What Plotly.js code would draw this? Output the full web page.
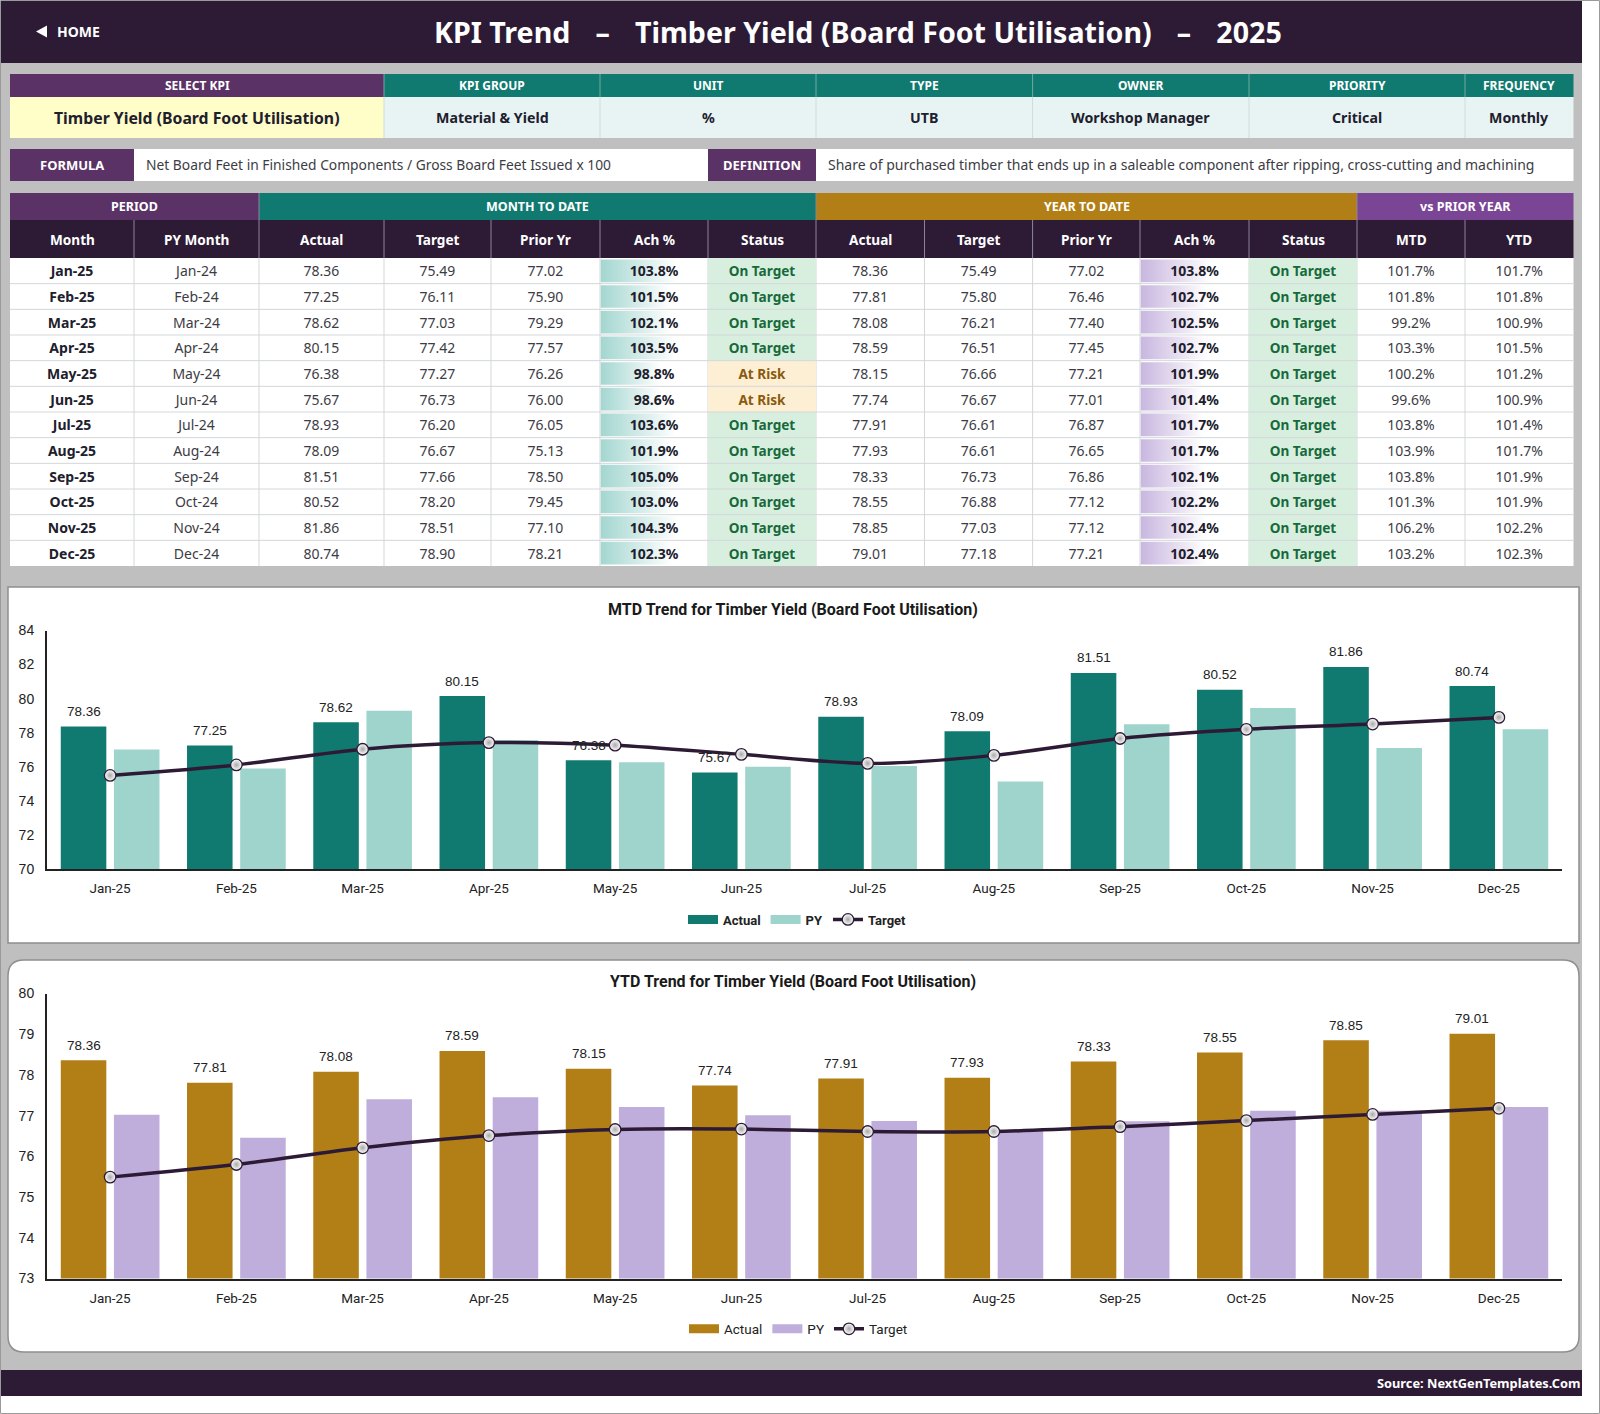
<!DOCTYPE html>
<html><head><meta charset="utf-8">
<script src="https://cdn.plot.ly/plotly-3.0.1.min.js"></script>
<style>html,body{margin:0;padding:0;background:#fff}#c{width:1600px;height:1414px}</style>
</head><body><div id="c"></div>
<script>
const months=['Jan-25','Feb-25','Mar-25','Apr-25','May-25','Jun-25','Jul-25','Aug-25','Sep-25','Oct-25','Nov-25','Dec-25'];
const pyMonths=['Jan-24','Feb-24','Mar-24','Apr-24','May-24','Jun-24','Jul-24','Aug-24','Sep-24','Oct-24','Nov-24','Dec-24'];
const mtdActual=[78.36,77.25,78.62,80.15,76.38,75.67,78.93,78.09,81.51,80.52,81.86,80.74];
const mtdTarget=[75.49,76.11,77.03,77.42,77.27,76.73,76.20,76.67,77.66,78.20,78.51,78.90];
const mtdPrior=[77.02,75.90,79.29,77.57,76.26,76.00,76.05,75.13,78.50,79.45,77.10,78.21];
const mtdAch=[103.8,101.5,102.1,103.5,98.8,98.6,103.6,101.9,105.0,103.0,104.3,102.3];
const mtdStatus=['On Target','On Target','On Target','On Target','At Risk','At Risk','On Target','On Target','On Target','On Target','On Target','On Target'];
const ytdActual=[78.36,77.81,78.08,78.59,78.15,77.74,77.91,77.93,78.33,78.55,78.85,79.01];
const ytdTarget=[75.49,75.80,76.21,76.51,76.66,76.67,76.61,76.61,76.73,76.88,77.03,77.18];
const ytdPrior=[77.02,76.46,77.40,77.45,77.21,77.01,76.87,76.65,76.86,77.12,77.12,77.21];
const ytdAch=[103.8,102.7,102.5,102.7,101.9,101.4,101.7,101.7,102.1,102.2,102.4,102.4];
const ytdStatus=['On Target','On Target','On Target','On Target','On Target','On Target','On Target','On Target','On Target','On Target','On Target','On Target'];
const vsMtd=[101.7,101.8,99.2,103.3,100.2,99.6,103.8,103.9,103.8,101.3,106.2,103.2];
const vsYtd=[101.7,101.8,100.9,101.5,101.2,100.9,101.4,101.7,101.9,101.9,102.2,102.3];
const infoHead=['SELECT KPI','KPI GROUP','UNIT','TYPE','OWNER','PRIORITY','FREQUENCY'];
const infoVals=['Timber Yield (Board Foot Utilisation)','Material & Yield','%','UTB','Workshop Manager','Critical','Monthly'];
const columnHead=['Month','PY Month','Actual','Target','Prior Yr','Ach %','Status','Actual','Target','Prior Yr','Ach %','Status','MTD','YTD'];
const groupHead=['PERIOD','MONTH TO DATE','YEAR TO DATE','vs PRIOR YEAR'];

const W=1600,H=1414,FT='"Noto Sans",sans-serif',FC='Roboto,sans-serif',FA='"Liberation Sans",Arial,sans-serif';
const DARK='#2d1b36',PUR='#5b3266',TEAL='#107a70',GOLD='#b27f17',PUR2='#7b4596',GREY='#bfbfbf';
const CELL='#3c3c44',INK='#20202c',LINE='#d3d7da',clear='rgba(0,0,0,0)';
const X=p=>p/W,Y=p=>1-p/H;
const f2=a=>a.map(v=>v.toFixed(2)),pc=a=>a.map(v=>v.toFixed(1)+'%');
const rowIdx=months.map((m,i)=>i);

const colX=[10,134,259,384,491,600,708,816,924.5,1032.6,1140,1249,1357,1465,1573.5];
const infoX=[10,384,600,816,1032.6,1249,1465,1573.5];
const groupX=[10,259,816,1357,1573.5];

const traces=[];
function chart(ax,act,tgt,pri,cAct,cPy,leg){
  const xa='x'+ax,ya='y'+ax;
  traces.push({type:'bar',name:'Actual',x:months,y:act,xaxis:xa,yaxis:ya,marker:{color:cAct},showlegend:false,hoverinfo:'x+y'});
  traces.push({type:'bar',name:'PY',x:months,y:pri,xaxis:xa,yaxis:ya,marker:{color:cPy},showlegend:false,hoverinfo:'x+y'});
  traces.push({type:'scatter',mode:'lines',name:'Actual',x:[months[0]],y:[null],xaxis:xa,yaxis:ya,line:{color:cAct,width:9},legend:leg,hoverinfo:'skip'});
  traces.push({type:'scatter',mode:'lines',name:'PY',x:[months[0]],y:[null],xaxis:xa,yaxis:ya,line:{color:cPy,width:9},legend:leg,hoverinfo:'skip'});
  traces.push({type:'scatter',mode:'lines+markers',name:'Target',x:months,y:tgt,xaxis:xa,yaxis:ya,legend:leg,
    line:{color:DARK,width:3.5,shape:'spline',smoothing:0.8},
    marker:{size:11.5,color:'#ffffff',gradient:{type:'radial',color:'#a8a8a8'},line:{color:DARK,width:1.3}},hoverinfo:'x+y'});
}
chart('',mtdActual,mtdTarget,mtdPrior,TEAL,'#9fd4cd','legend');
chart('2',ytdActual,ytdTarget,ytdPrior,GOLD,'#bfaddb','legend2');

function dataBars(ax,vals,lo,col){
  vals.forEach((v,i)=>traces.push({type:'scatter',mode:'none',x:[lo,v,v,lo,lo],y:[i-.44,i-.44,i+.44,i+.44,i-.44],xaxis:'x'+ax,yaxis:'y'+ax,
    fill:'toself',fillgradient:{type:'horizontal',colorscale:[[0,col],[1,'#ffffff']]},showlegend:false,hoverinfo:'skip'}));
}
dataBars('3',mtdAch,79,'#a3d6d0');
dataBars('4',ytdAch,86,'#c8b6df');

const statusInk=s=>s.map(v=>v==='On Target'?'#17693a':'#8a5a10');
const statusFill=v=>v==='On Target'?'#d8efe0':'#fdefd3';
const bodyCols=[
 [months,true,INK],[pyMonths,false,CELL],[f2(mtdActual),false,CELL],[f2(mtdTarget),false,CELL],[f2(mtdPrior),false,CELL],
 [pc(mtdAch),true,INK],[mtdStatus,true,statusInk(mtdStatus)],[f2(ytdActual),false,CELL],[f2(ytdTarget),false,CELL],[f2(ytdPrior),false,CELL],
 [pc(ytdAch),true,INK],[ytdStatus,true,statusInk(ytdStatus)],[pc(vsMtd),false,CELL],[pc(vsYtd),false,CELL]];
bodyCols.forEach((c,j)=>{
  const status=j===6||j===11;
  traces.push({type:'scatter',mode:'text',x:rowIdx.map(()=> (colX[j]+colX[j+1])/2),y:rowIdx.map(i=>i+.08),text:c[0],textposition:'middle center',
    textfont:{family:FT,size:status?13.6:14,weight:c[1]?'bold':'normal',color:c[2]},xaxis:'x5',yaxis:'y5',showlegend:false,hoverinfo:'skip',cliponaxis:false});
});

const rect=(x0,y0,x1,y1,fill,line,lw)=>({type:'rect',xref:'paper',yref:'paper',x0:X(x0),x1:X(x1),y0:Y(y0),y1:Y(y1),fillcolor:fill,line:{color:line||fill,width:lw||0},layer:'below'});
const vline=(x,y0,y1,c)=>({type:'line',xref:'paper',yref:'paper',x0:X(x),x1:X(x),y0:Y(y0),y1:Y(y1),line:{color:c,width:1},layer:'below'});
const r=16,px=8,py0=960,qx=1579,py1=1352;
const P=(x,y)=>X(x)+','+Y(y);
const shapes=[
 rect(0.5,0.5,1599.5,1413.5,'#ffffff','#9a9a9a',1),
 rect(1,63,1582,1396,GREY),
 rect(1,1,1582,63,DARK),
 rect(1,1370,1582,1396,DARK),
 rect(8,587,1579,943,'#ffffff','#8f8f8f',1.5),
 {type:'path',xref:'paper',yref:'paper',layer:'below',fillcolor:'#ffffff',line:{color:'#8f8f8f',width:1.5},
  path:`M${P(px+r,py0)} L${P(qx-r,py0)} Q${P(qx,py0)} ${P(qx,py0+r)} L${P(qx,py1-r)} Q${P(qx,py1)} ${P(qx-r,py1)} L${P(px+r,py1)} Q${P(px,py1)} ${P(px,py1-r)} L${P(px,py0+r)} Q${P(px,py0)} ${P(px+r,py0)} Z`},
 rect(10,258,1573.5,566,'#ffffff'),
 {type:'path',xref:'paper',yref:'paper',layer:'above',fillcolor:'#ffffff',line:{width:0},path:`M${P(36,31.5)} L${P(47,25.5)} L${P(47,37.5)} Z`}
];
const note=(x,y,text,size,extra)=>Object.assign({xref:'paper',yref:'paper',x:X(x),y:Y(y),text,showarrow:false,font:{family:FT,size,color:'#ffffff'},xanchor:'center',yanchor:'middle'},extra||{});
const titleGap='\u00a0\u00a0\u00a0\u200a';
const annotations=[
 note(858,31,'<b>KPI Trend'+titleGap+'–'+titleGap+'Timber Yield (Board Foot Utilisation)'+titleGap+'–'+titleGap+'2025</b>',28.6),
 note(55,31.5,'<b>HOME</b>',14,{xanchor:'left'}),
 note(1582,1383,'<b>Source: NextGenTemplates.Com</b>',12.8,{xanchor:'right'}),
 note(793,609.5,'<b>MTD Trend for Timber Yield (Board Foot Utilisation)</b>',16,{font:{family:FC,size:16,color:'#1a1a1a'}}),
 note(793,981.5,'<b>YTD Trend for Timber Yield (Board Foot Utilisation)</b>',16,{font:{family:FC,size:16,color:'#1a1a1a'}})
];
function strip(edges,y0,y1,labels,fills,size,ink,sep,align){
  labels.forEach((t,i)=>{
    const sz=Array.isArray(size)?size[i]:size, col=Array.isArray(ink)?ink[i]:ink;
    shapes.push(rect(edges[i],y0,edges[i+1],y1,fills[i]));
    if(i) shapes.push(vline(edges[i],y0,y1,sep));
    const left=align&&align[i]==='left';
    annotations.push(note(left?edges[i]+10:(edges[i]+edges[i+1])/2,(y0+y1)/2,t,sz,{xanchor:left?'left':'center',font:{family:FT,size:sz,color:col}}));
  });
}
const bold=a=>a.map(v=>'<b>'+v+'</b>');
strip(infoX,74,97,bold(infoHead),[PUR,TEAL,TEAL,TEAL,TEAL,TEAL,TEAL],12,'#ffffff','#6fa8a2');
strip(infoX,97,138,bold(infoVals),['#fffdc8','#e8f4f4','#e8f4f4','#e8f4f4','#e8f4f4','#e8f4f4','#e8f4f4'],[15.8,14.2,14.2,14.2,14.2,14.2,14.2],INK,'#cfdcdc');
strip([10,134,708,816,1573.5],149,181,['<b>FORMULA</b>','Net Board Feet in Finished Components / Gross Board Feet Issued x 100','<b>DEFINITION</b>','Share of purchased timber that ends up in a saleable component after ripping, cross-cutting and machining'],
  [PUR,'#ffffff',PUR,'#ffffff'],[13,13.8,13,14],['#ffffff',CELL,'#ffffff',CELL],clear,['center','left','center','left']);
strip(groupX,193,220,bold(groupHead),[PUR,TEAL,GOLD,PUR2],12.5,'#ffffff','#8d8398');
strip(colX,220,258,bold(columnHead),columnHead.map(()=>DARK),13.6,'#ffffff','#8d8398');
const cellRect=(j,i,fill)=>({type:'rect',xref:'x5',yref:'y5',x0:colX[j],x1:colX[j+1],y0:i-.5,y1:i+.5,fillcolor:fill,line:{width:0},layer:'below'});
mtdStatus.forEach((s,i)=>shapes.push(cellRect(6,i,statusFill(s))));
ytdStatus.forEach((s,i)=>shapes.push(cellRect(11,i,statusFill(s))));
rowIdx.slice(1).forEach(i=>shapes.push({type:'line',xref:'x5',yref:'y5',x0:colX[0],x1:colX[14],y0:i-.5,y1:i-.5,line:{color:LINE,width:1},layer:'below'}));
colX.slice(1,14).forEach(x=>shapes.push(vline(x,258,566,LINE)));

const labels=(ax,vals)=>vals.forEach((v,i)=>annotations.push({xref:'x'+ax,yref:'y'+ax,x:months[i],y:v,text:v.toFixed(2),showarrow:false,xshift:-26.5,yshift:15,xanchor:'center',yanchor:'middle',font:{family:FA,size:13.5,color:'#222'}}));
labels('',mtdActual);labels('2',ytdActual);

const xAxis=(anchor)=>({domain:[X(47),X(1562)],anchor,type:'category',categoryorder:'array',categoryarray:months,range:[-.5,11.5],showline:true,linecolor:'#222',linewidth:2,showgrid:false,zeroline:false,ticks:'outside',ticklen:6,tickcolor:clear,tickfont:{family:FC,size:13.5,color:'#222'},fixedrange:true});
const yAxis=(anchor,d0,d1,range)=>({domain:[Y(d1),Y(d0)],anchor,range,dtick:1,showline:true,linecolor:'#222',linewidth:2,showgrid:false,zeroline:false,ticks:'outside',ticklen:8,tickcolor:clear,tickfont:{family:FA,size:14,color:'#222'},fixedrange:true});
const hiddenX=(x0,x1,range,anchor)=>({domain:[X(x0),X(x1)],range,anchor,visible:false,fixedrange:true});
const hiddenY=(anchor)=>({domain:[Y(566),Y(258)],range:[11.5,-.5],anchor,visible:false,fixedrange:true});
const legendBase=(x,y)=>({orientation:'h',x:X(x),y:Y(y),xanchor:'left',yanchor:'middle',bgcolor:clear,itemclick:false,itemdoubleclick:false,tracegroupgap:0});

const layout={width:W,height:H,margin:{l:0,r:0,t:0,b:0},paper_bgcolor:'#ffffff',plot_bgcolor:clear,autosize:false,
 bargap:.158,bargroupgap:.143,barmode:'group',shapes,annotations,showlegend:true,hovermode:'closest',
 legend:Object.assign(legendBase(683,919.5),{font:{family:FC,size:13,weight:'bold',color:'#222'}}),
 legend2:Object.assign(legendBase(684,1329),{font:{family:FC,size:13.5,color:'#222'}}),
 xaxis:xAxis('y'),yaxis:Object.assign(yAxis('x',630.5,869,[70,84]),{dtick:2}),
 xaxis2:xAxis('y2'),yaxis2:yAxis('x2',993.5,1278.5,[73,80]),
 xaxis3:hiddenX(600.5,708,[79,114],'y3'),yaxis3:hiddenY('x3'),
 xaxis4:hiddenX(1140.5,1249,[86,113],'y4'),yaxis4:hiddenY('x4'),
 xaxis5:hiddenX(10,1573.5,[10,1573.5],'y5'),yaxis5:hiddenY('x5')
};
Plotly.newPlot('c',traces,layout,{displayModeBar:false,responsive:false});
</script></body></html>
